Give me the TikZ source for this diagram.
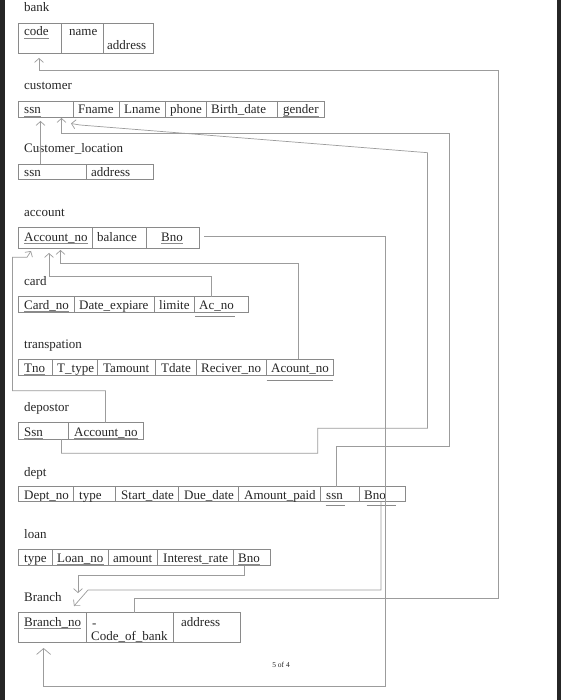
\documentclass[tikz,border=0pt]{standalone}
\usepackage{fontspec}
\setmainfont{Liberation Serif}
\usetikzlibrary{arrows.meta}
\definecolor{txt}{HTML}{262626}
\definecolor{boxc}{HTML}{8A8A8A}
\definecolor{wirec}{HTML}{9C9C9C}
\newcommand\ertable[5]{\draw[tbl] (#1,#2) rectangle (#3,#4);
  \foreach \d in {#5} {\draw[tbl] (\d,#2) -- (\d,#4);}}
\begin{document}
\begin{tikzpicture}[x=1pt,y=-1pt,
  font=\fontsize{13}{15}\selectfont,
  lbl/.style={anchor=base west,inner sep=0pt,text=txt},
  ul/.style={append after command={([yshift=-2.3pt]\tikzlastnode.base west) edge[draw=boxc,line width=0.6pt] ([yshift=-2.3pt]\tikzlastnode.base east)}},
  tbl/.style={draw=boxc,line width=0.7pt},
  wire/.style={draw=wirec,line width=0.7pt},
  tip/.style={-{Straight Barb[length=4pt,width=9pt]}},
  bigtip/.style={-{Straight Barb[length=6pt,width=14pt]}}]
\useasboundingbox (0,0) rectangle (561,700);
\fill[white] (0,0) rectangle (561,700);
\fill[black!85] (0,0) rectangle (4.5,700);
\fill[black!85] (556.5,0) rectangle (561,700);

% bank
\node[lbl] (bk) at (24,12) {bank};
\ertable{18.6}{23.3}{153}{53.3}{61,103}
\node[lbl,ul] (bk-code) at (24,36) {code};
\node[lbl] (bk-name) at (69,36) {name};
\node[lbl] (bk-addr) at (107,50) {address};

% customer
\node[lbl] (cu) at (24,90) {customer};
\ertable{18.6}{101}{324}{117}{73,119,165,206,277}
\node[lbl,ul] (cu-ssn) at (24,114) {ssn};
\node[lbl] (cu-fn) at (78,114) {Fname};
\node[lbl] (cu-ln) at (124,114) {Lname};
\node[lbl] (cu-ph) at (170,114) {phone};
\node[lbl] (cu-bd) at (211,114) {Birth\_date};
\node[lbl,ul] (cu-ge) at (283,114) {gender};

% customer location
\node[lbl] (cl) at (24,153) {Customer\_location};
\ertable{18.6}{164.3}{153}{179.7}{86}
\node[lbl,ul] (cl-ssn) at (24,177) {ssn};
\node[lbl,ul] (cl-addr) at (91,177) {address};

% account
\node[lbl] (ac) at (24,217) {account};
\ertable{18.6}{227.3}{199}{248.3}{92,146}
\node[lbl,ul] (ac-no) at (24,241) {Account\_no};
\node[lbl] (ac-bal) at (97,241) {balance};
\node[lbl,ul] (ac-bno) at (161,241) {Bno};

% card
\node[lbl] (ca) at (24,285) {card};
\ertable{18.6}{296.7}{248}{312.3}{74,154,194}
\node[lbl,ul] (ca-no) at (24,309) {Card\_no};
\node[lbl] (ca-de) at (79,309) {Date\_expiare};
\node[lbl] (ca-li) at (159,309) {limite};
\node[lbl] (ca-ac) at (199,309) {Ac\_no};
\draw[draw=boxc,line width=0.6pt] (195,316) -- (235,316);

% transpation
\node[lbl] (tr) at (24,348) {transpation};
\ertable{18.6}{359.3}{333.8}{375}{52,97.7,155.6,196,266.5}
\node[lbl,ul] (tr-no) at (24,372) {Tno};
\node[lbl] (tr-ty) at (57,372) {T\_type};
\node[lbl] (tr-am) at (103,372) {Tamount};
\node[lbl] (tr-da) at (161,372) {Tdate};
\node[lbl] (tr-re) at (201,372) {Reciver\_no};
\node[lbl] (tr-ac) at (271,372) {Acount\_no};
\draw[draw=boxc,line width=0.6pt] (266.5,380) -- (333,380);

% depostor
\node[lbl] (de) at (24,411) {depostor};
\ertable{18.6}{422.7}{143}{439.3}{68.7}
\node[lbl,ul] (de-ssn) at (24,436) {Ssn};
\node[lbl,ul] (de-ac) at (74,436) {Account\_no};

% dept
\node[lbl] (dp) at (24,476) {dept};
\ertable{18.6}{486.7}{405}{501.7}{73.3,115.2,178.2,238.6,320.2,358.9}
\node[lbl,ul] (dp-no) at (24,499) {Dept\_no};
\node[lbl] (dp-ty) at (79,499) {type};
\node[lbl] (dp-sd) at (121,499) {Start\_date};
\node[lbl] (dp-dd) at (184,499) {Due\_date};
\node[lbl] (dp-ap) at (244,499) {Amount\_paid};
\node[lbl] (dp-ssn) at (326,499) {ssn};
\node[lbl] (dp-bno) at (364,499) {Bno};
\draw[draw=boxc,line width=0.6pt] (325.6,505) -- (345,505);
\draw[draw=boxc,line width=0.6pt] (366.7,505) -- (396.4,505);

% loan
\node[lbl] (lo) at (24,538) {loan};
\ertable{18.6}{549.3}{270.8}{565.7}{52.6,108.4,157.4,233.6}
\node[lbl] (lo-ty) at (24,562) {type};
\node[lbl,ul] (lo-no) at (57,562) {Loan\_no};
\node[lbl] (lo-am) at (113,562) {amount};
\node[lbl] (lo-ir) at (163,562) {Interest\_rate};
\node[lbl,ul] (lo-bno) at (238,562) {Bno};

% Branch
\node[lbl] (br) at (24,601) {Branch};
\ertable{18.6}{612.7}{240.4}{642.7}{86.6,173.5}
\node[lbl,ul] (br-no) at (24,626) {Branch\_no};
\node[lbl] (br-dash) at (92,627) {-};
\node[lbl,ul] (br-cb) at (91,640) {Code\_of\_bank};
\node[lbl] (br-addr) at (181,626) {address};

\node[inner sep=0pt,text=txt,font=\fontsize{7.5}{9}\selectfont] (pg) at (281,665) {5 of 4};

% connector end points
\coordinate (t-bank) at (39,58);
\coordinate (f-brcb) at (134,612.7);
\coordinate (t-cu1) at (40.5,121);
\coordinate (f-cl) at (40.5,164.3);
\coordinate (t-cu2) at (61.5,118);
\coordinate (f-dpssn) at (336,486.7);
\coordinate (t-cu3) at (71,123.5);
\coordinate (f-dessn) at (61.5,439.3);
\coordinate (f-acbno) at (204,236);
\coordinate (t-brno) at (43.6,648);
\coordinate (t-ac1) at (31,251);
\coordinate (f-deac) at (105.5,422.7);
\coordinate (t-ac2) at (49,253);
\coordinate (f-caac) at (211,296.7);
\coordinate (t-ac3) at (60.5,250);
\coordinate (f-trac) at (298,359.3);
\coordinate (t-br1) at (74,606);
\coordinate (f-dpbno) at (381,501.7);
\coordinate (t-br2) at (78,593);
\coordinate (f-lobno) at (244,565.7);

% connectors
\draw[wire,tip] (f-brcb) -- (134,598.3) -- (498,598.3) -- (498,70) -- (39,70) -- (t-bank);
\draw[wire,tip] (f-cl) -- (t-cu1);
\draw[wire,tip] (f-dpssn) -- (336,446) -- (449,446) -- (449,133.3) -- (61.5,133.3) -- (t-cu2);
\draw[wire,tip] (f-dessn) -- (61.5,453.3) -- (317.7,453.3) -- (317.7,428.3) -- (427.5,428.3) -- (427.5,152.7) -- (80,125) -- (t-cu3);
\draw[wire,bigtip] (f-acbno) -- (385.3,236) -- (385.3,686.7) -- (43.6,686.7) -- (t-brno);
\draw[wire,tip] (f-deac) -- (105.5,390.7) -- (12.5,390.7) -- (12.5,257.3) -- (27,257.3) -- (t-ac1);
\draw[wire,tip] (f-caac) -- (211,276) -- (49,276) -- (t-ac2);
\draw[wire,tip] (f-trac) -- (298,263.3) -- (60.5,263.3) -- (t-ac3);
\draw[wire,tip] (f-dpbno) -- (381,590) -- (88,590) -- (t-br1);
\draw[wire,tip] (f-lobno) -- (244,575) -- (78,575) -- (t-br2);
\end{tikzpicture}
\end{document}
